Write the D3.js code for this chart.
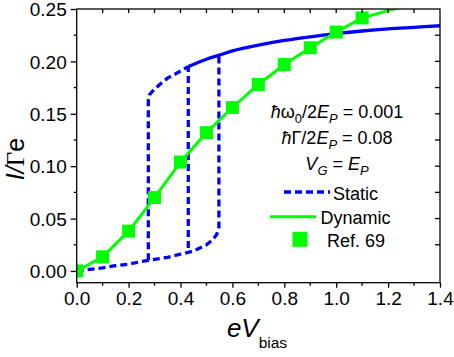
<!DOCTYPE html>
<html><head><meta charset="utf-8">
<script src="https://cdn.jsdelivr.net/npm/d3@7"></script>
<style>
body{margin:0;background:#fff}
svg{display:block}
text{font-family:"Liberation Sans",Arial,Helvetica,sans-serif;fill:#000}
</style>
</head><body>
<svg id="c" width="454" height="357"></svg>
<script>
// ---- data ----
const xTicks = [0, 0.2, 0.4, 0.6, 0.8, 1.0, 1.2, 1.4];
const xTickLabels = ["0.0", "0.2", "0.4", "0.6", "0.8", "1.0", "1.2", "1.4"];
const yTicks = [0, 0.05, 0.10, 0.15, 0.20, 0.25];
const yTickLabels = ["0.00", "0.05", "0.10", "0.15", "0.20", "0.25"];

// Ref. 69 (squares)
const refX = [0, 0.1, 0.2, 0.3, 0.4, 0.5, 0.6, 0.7, 0.8, 0.9, 1.0, 1.1];
const refY = [0, 0.0135, 0.038, 0.070, 0.104, 0.132, 0.156, 0.178, 0.197, 0.213, 0.228, 0.2415];

// Dynamic (green line)
const dynX = [0, 0.1, 0.2, 0.3, 0.4, 0.5, 0.6, 0.7, 0.8, 0.9, 1.0, 1.1, 1.2, 1.3];
const dynY = [0, 0.0135, 0.038, 0.070, 0.104, 0.132, 0.156, 0.178, 0.197, 0.213, 0.228, 0.2415, 0.2485, 0.255];

// Static: lower branch with upward jump
const staticLowX = [0, 0.05, 0.1, 0.15, 0.2, 0.25, 0.3, 0.35, 0.4, 0.45, 0.5, 0.525, 0.54, 0.548, 0.548];
const staticLowY = [0, 0.0015, 0.003, 0.005, 0.0065, 0.009, 0.011, 0.013, 0.016, 0.019, 0.025, 0.030, 0.035, 0.042, 0.206];
// Static: downward jump and unstable upper part
const staticUpX = [0.276, 0.276, 0.28, 0.29, 0.32, 0.35, 0.38, 0.43];
const staticUpY = [0.0103, 0.163, 0.168, 0.171, 0.178, 0.184, 0.188, 0.195];
// Static: middle jump
const staticMidX = [0.43, 0.43];
const staticMidY = [0.022, 0.195];
// Static: upper stable branch
const staticHiX = [0.43, 0.5, 0.55, 0.6, 0.7, 0.8, 0.9, 1.0, 1.1, 1.2, 1.3, 1.4];
const staticHiY = [0.195, 0.202, 0.206, 0.210, 0.2155, 0.220, 0.2235, 0.2265, 0.229, 0.231, 0.2325, 0.234];

const legendNames = ["Static", "Dynamic", "Ref. 69"];

// ---- layout ----
const svg = d3.select("#c");
const L = 76.7, R = 440, T = 9, B = 282.7;
const x = d3.scaleLinear().domain([0, 1.4]).range([L, R]);
const y = d3.scaleLinear().domain([-0.0112, 0.25]).range([B, T]);
const BLUE = "#0000ff", GREEN = "#00ff00";

svg.append("defs").append("clipPath").attr("id", "clip")
  .append("rect").attr("x", L).attr("y", T).attr("width", R - L).attr("height", B - T);

const plot = svg.append("g").attr("clip-path", "url(#clip)");

const zip = (xs, ys) => xs.map((v, i) => [v, ys[i]]);
const line = d3.line().x(d => x(d[0])).y(d => y(d[1]));
const smooth = d3.line().x(d => x(d[0])).y(d => y(d[1])).curve(d3.curveCatmullRom);

// static dashed parts
[[staticLowX, staticLowY], [staticUpX, staticUpY], [staticMidX, staticMidY]].forEach(([xs, ys]) => {
  plot.append("path").attr("d", line(zip(xs, ys)))
    .attr("fill", "none").attr("stroke", BLUE).attr("stroke-width", 3.3)
    .attr("stroke-dasharray", "7,4");
});
plot.append("path").attr("d", smooth(zip(staticHiX, staticHiY)))
  .attr("fill", "none").attr("stroke", BLUE).attr("stroke-width", 3.3);

// dynamic line
plot.append("path").attr("d", line(zip(dynX, dynY)))
  .attr("fill", "none").attr("stroke", GREEN).attr("stroke-width", 3);

// ref squares
const S = 13;
plot.selectAll("rect.m").data(zip(refX, refY)).enter().append("rect")
  .attr("x", d => x(d[0]) - S / 2).attr("y", d => y(d[1]) - S / 2)
  .attr("width", S).attr("height", S).attr("fill", GREEN);

// ---- axes ----
const ax = svg.append("g").attr("stroke", "#000").attr("stroke-width", 1.3);
ax.append("rect").attr("x", L).attr("y", T).attr("width", R - L).attr("height", B - T).attr("fill", "none");

const bottom = d3.axisBottom(x).tickValues(xTicks).tickSize(5).tickFormat((d, i) => xTickLabels[i]);
const gB = svg.append("g").attr("transform", `translate(0,${B})`).call(bottom);
const left = d3.axisLeft(y).tickValues(yTicks).tickSize(6).tickFormat((d, i) => yTickLabels[i]);
const gL = svg.append("g").attr("transform", `translate(${L},0)`).call(left);
[gB, gL].forEach(g => {
  g.select(".domain").remove();
  g.selectAll("line").attr("stroke", "#000").attr("stroke-width", 1.3);
  g.selectAll("text").style("font-size", "19px").attr("fill", "#000");
});
gB.selectAll("text").attr("dy", "0.72em").attr("y", 9);
gL.selectAll("text").attr("x", -10).attr("dy", "0.35em");

// minor ticks
const minorX = d3.range(0, 15).map(i => i * 0.1).filter((v, i) => i % 2 === 1);
const minorY = d3.range(0, 11).map(i => i * 0.025).filter((v, i) => i % 2 === 1);
minorX.forEach(v => ax.append("line").attr("x1", x(v)).attr("x2", x(v)).attr("y1", B).attr("y2", B + 3));
minorY.forEach(v => ax.append("line").attr("x1", L).attr("x2", L - 3).attr("y1", y(v)).attr("y2", y(v)));
// top (inward) and right (inward) ticks
d3.range(1, 14).map(i => i * 0.1).forEach(v =>
  ax.append("line").attr("x1", x(v)).attr("x2", x(v)).attr("y1", T).attr("y2", T + 4));
d3.range(1, 10).map(i => i * 0.025).forEach(v =>
  ax.append("line").attr("x1", R).attr("x2", R - 5).attr("y1", y(v)).attr("y2", y(v)));

// ---- rich text helper ----
function rich(g, xx, yy, segs, size, anchor) {
  const t = g.append("text").attr("x", xx).attr("y", yy).attr("text-anchor", anchor || "middle")
    .style("font-size", size + "px");
  let shifted = 0;
  segs.forEach(s => {
    const sp = t.append("tspan").text(s.t);
    if (s.i) sp.style("font-style", "italic");
    const want = s.sub ? size * 0.3 : 0;
    if (want !== shifted) { sp.attr("dy", want - shifted); shifted = want; }
    if (s.sub) sp.style("font-size", (size * 0.72) + "px");
  });
  return t;
}

// annotations
const ann = svg.append("g");
rich(ann, 337, 118, [{t: "ħ", i: 1}, {t: "ω"}, {t: "0", sub: 1}, {t: "/2"}, {t: "E", i: 1}, {t: "P", i: 1, sub: 1}, {t: " = 0.001"}], 18);
rich(ann, 337, 143.5, [{t: "ħ", i: 1}, {t: "Γ"}, {t: "/2"}, {t: "E", i: 1}, {t: "P", i: 1, sub: 1}, {t: " = 0.08"}], 18);
rich(ann, 337, 170, [{t: "V", i: 1}, {t: "G", i: 1, sub: 1}, {t: " = "}, {t: "E", i: 1}, {t: "P", i: 1, sub: 1}], 18);

// legend
const lg = svg.append("g");
lg.append("line").attr("x1", 284).attr("x2", 330).attr("y1", 192).attr("y2", 192)
  .attr("stroke", BLUE).attr("stroke-width", 3.3).attr("stroke-dasharray", "7,4");
lg.append("text").attr("x", 333).attr("y", 199.5).style("font-size", "18px").text(legendNames[0]);
lg.append("line").attr("x1", 270).attr("x2", 316).attr("y1", 216.7).attr("y2", 216.7)
  .attr("stroke", GREEN).attr("stroke-width", 3);
lg.append("text").attr("x", 320.5).attr("y", 223.5).style("font-size", "18px").text(legendNames[1]);
lg.append("rect").attr("x", 300 - 7.5).attr("y", 239.3 - 7.5).attr("width", 15).attr("height", 15).attr("fill", GREEN);
lg.append("text").attr("x", 327).attr("y", 246.5).style("font-size", "18px").text(legendNames[2]);

// axis titles
const xt = svg.append("text").attr("x", 257).attr("y", 337).attr("text-anchor", "middle");
xt.append("tspan").text("eV").style("font-style", "italic").style("font-size", "26px");
xt.append("tspan").text("bias").style("font-size", "15.5px").attr("dy", 11);

const yt = svg.append("text").attr("transform", "translate(24,159) rotate(-90)").attr("text-anchor", "middle")
  .style("font-size", "25px");
yt.append("tspan").text("I/").style("font-style", "italic");
yt.append("tspan").text("Γ").style("font-family", "'Liberation Serif','Times New Roman',serif");
yt.append("tspan").text("e");
</script>
</body></html>
